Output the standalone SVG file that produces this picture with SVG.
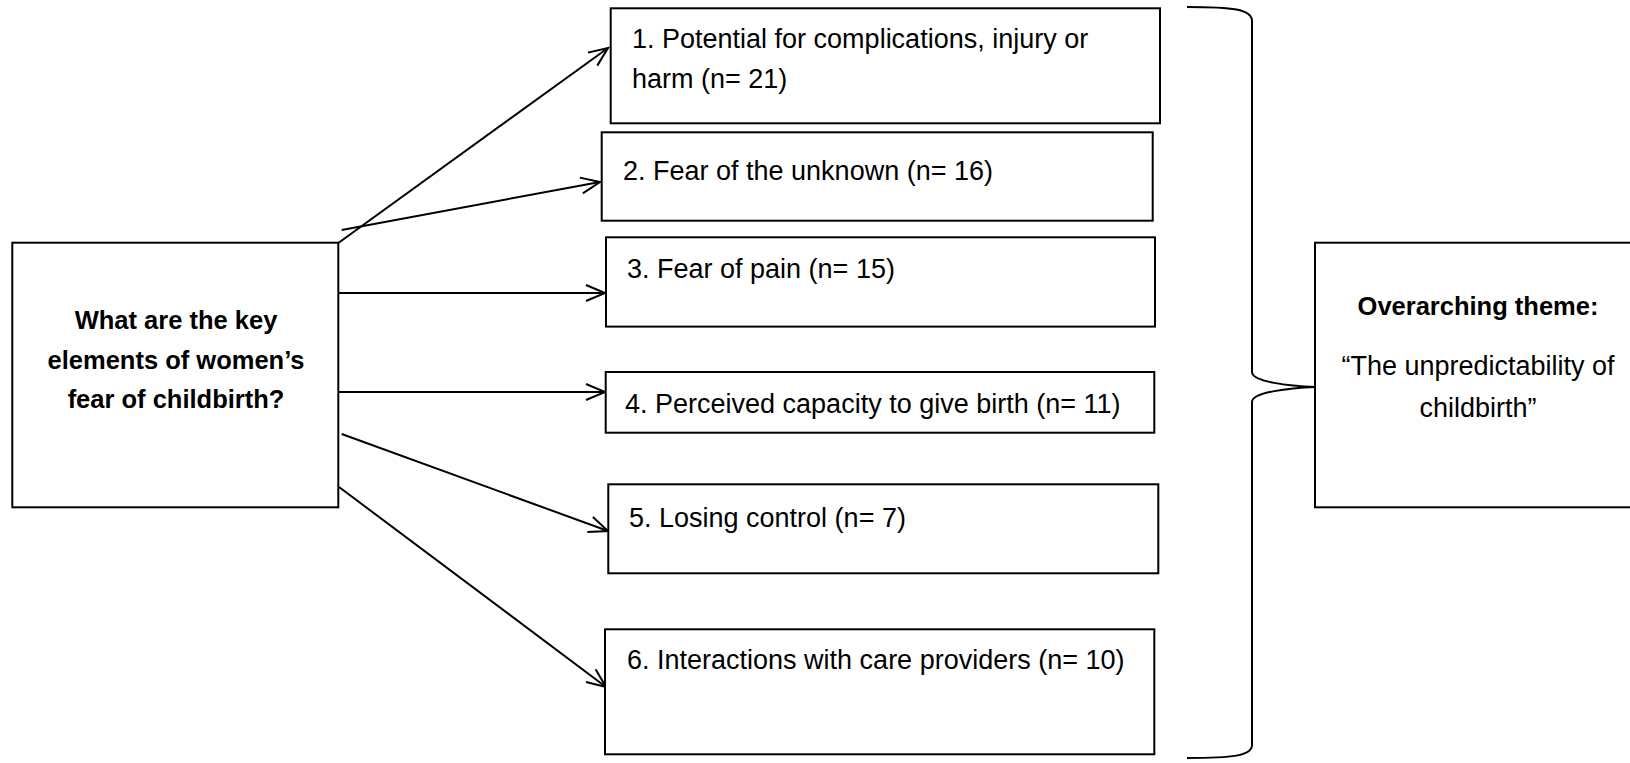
<svg xmlns="http://www.w3.org/2000/svg" width="1630" height="763" viewBox="0 0 1630 763">
<style>
.box{fill:#fff;stroke:#000;stroke-width:2}
.t{font-family:"Liberation Sans",Arial,sans-serif;font-size:27px;fill:#000}
.b{font-family:"Liberation Sans",Arial,sans-serif;font-size:25.5px;font-weight:bold;fill:#000;text-anchor:middle}
.c{text-anchor:middle}
.ln{stroke:#000;stroke-width:2;fill:none}
</style>
<defs>
<marker id="arr" markerWidth="24" markerHeight="20" viewBox="0 0 24 20" refX="21" refY="10" orient="auto" markerUnits="userSpaceOnUse" overflow="visible">
<path d="M2,2 L21,10 L2,18" fill="none" stroke="#000" stroke-width="2"/>
</marker>
</defs>
<g id="connectors">
<line class="ln" x1="339" y1="242.5" x2="608" y2="48" marker-end="url(#arr)"/>
<line class="ln" x1="341.7" y1="230" x2="600" y2="182" marker-end="url(#arr)"/>
<line class="ln" x1="339" y1="293" x2="605" y2="293" marker-end="url(#arr)"/>
<line class="ln" x1="339" y1="392" x2="605" y2="392" marker-end="url(#arr)"/>
<line class="ln" x1="341.7" y1="434" x2="608" y2="531" marker-end="url(#arr)"/>
<line class="ln" x1="339" y1="487" x2="606" y2="687" marker-end="url(#arr)"/>
<path id="brace" class="ln" d="M1187,7 C1232,7 1252,9 1252,21 L1252,372 C1252,382 1290,386 1316,387 C1290,388 1252,392 1252,402 L1252,745 C1252,756 1232,758 1187,758"/>
</g>
<g id="question">
<rect class="box" x="12.3" y="242.7" width="326" height="264.6"/>
<text class="b" x="176" y="329">What are the key</text>
<text class="b" x="176" y="368.5">elements of women’s</text>
<text class="b" x="176" y="407.5">fear of childbirth?</text>
</g>
<g id="n1">
<rect class="box" x="610.7" y="8.3" width="549.3" height="115"/>
<text class="t" x="632" y="48">1. Potential for complications, injury or</text>
<text class="t" x="632" y="88">harm (n= 21)</text>
</g>
<g id="n2">
<rect class="box" x="601.7" y="132.3" width="551" height="88.4"/>
<text class="t" x="623" y="180">2. Fear of the unknown (n= 16)</text>
</g>
<g id="n3">
<rect class="box" x="606" y="237.3" width="549" height="89.3"/>
<text class="t" x="627" y="278">3. Fear of pain (n= 15)</text>
</g>
<g id="n4">
<rect class="box" x="605.7" y="372" width="548.6" height="60.7"/>
<text class="t" x="625" y="413">4. Perceived capacity to give birth (n= 11)</text>
</g>
<g id="n5">
<rect class="box" x="608.3" y="484.3" width="550" height="89"/>
<text class="t" x="629" y="527">5. Losing control (n= 7)</text>
</g>
<g id="n6">
<rect class="box" x="605" y="629.3" width="549.3" height="125"/>
<text class="t" x="627" y="669">6. Interactions with care providers (n= 10)</text>
</g>
<g id="theme">
<rect class="box" x="1315" y="242.7" width="330" height="264.6"/>
<text class="b" x="1478" y="315">Overarching theme:</text>
<text class="t c" x="1478" y="375">“The unpredictability of</text>
<text class="t c" x="1478" y="416.7">childbirth”</text>
</g>
</svg>
